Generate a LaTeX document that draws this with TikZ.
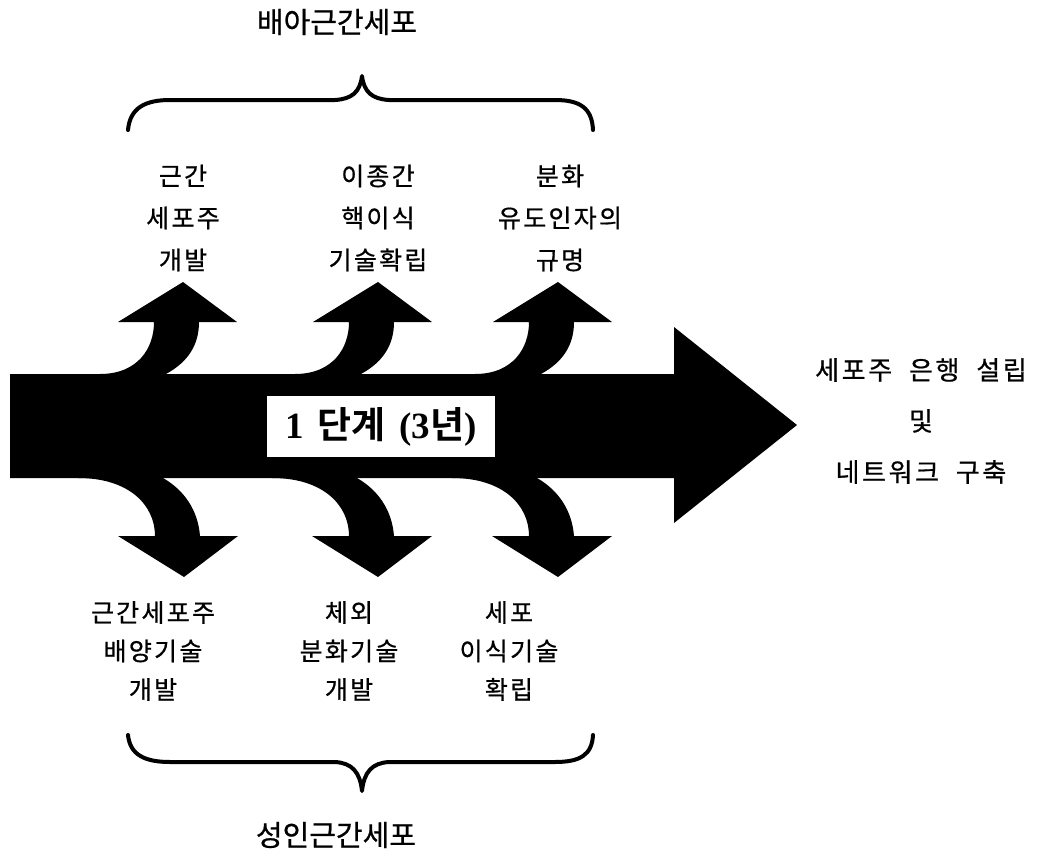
\documentclass[tikz,border=0pt]{standalone}
\usepackage{fontspec}
\newfontfamily\kr[LetterSpace=9,FakeBold=0.7]{Noto Sans CJK KR}
\newfontfamily\krtitle[LetterSpace=0,FakeBold=0.7]{Noto Sans CJK KR}
\newfontfamily\krwide[LetterSpace=10,WordSpace=2,FakeBold=0.7]{Noto Sans CJK KR}
\newfontfamily\krplain[BoldFont={Noto Sans CJK KR Bold}]{Noto Sans CJK KR}
\newfontfamily\tnr{Liberation Serif}
\begin{document}
\begin{tikzpicture}[x=1pt,y=-1pt,
  lbl/.style={font=\fontsize{25}{42}\selectfont\kr, align=center, inner sep=0pt},
  lbllow/.style={lbl, font=\fontsize{25}{38.5}\selectfont\kr},
  title/.style={font=\fontsize{29}{30}\selectfont\krtitle, inner sep=0pt},
  brace/.style={line width=4pt, line cap=round, line join=round}]
\useasboundingbox (0,0) rectangle (1045,862);

% main stage arrow
\fill (10,374) -- (674,374) -- (674,327) -- (797,425) -- (674,523) -- (674,478) -- (10,478) -- cycle;

% branches bending upwards
\foreach \x in {183,378,558} {
  \fill ({\x-83},380) -- ({\x-83},374)
    .. controls ({\x-45},374) and ({\x-29},348) .. ({\x-29},322)
    -- ({\x-65},322) -- (\x,282) -- ({\x+54},322) -- ({\x+16},322)
    .. controls ({\x+16},345) and ({\x+5},362) .. ({\x-17},374)
    -- ({\x-17},380) -- cycle;
}

% branches bending downwards
\foreach \x in {184,378,558} {
  \fill ({\x-106},472) -- ({\x-106},478)
    .. controls ({\x-55},478) and ({\x-29},505) .. ({\x-29},536)
    -- ({\x-66},536) -- (\x,577) -- ({\x+54},536) -- ({\x+16},536)
    .. controls ({\x+14},510) and ({\x},490) .. ({\x-21},478)
    -- ({\x-21},472) -- cycle;
}

% stage label on the shaft
\node[fill=white, minimum width=228pt, minimum height=61pt, inner sep=0pt,
      font=\fontsize{37}{40}\selectfont\bfseries] (stage) at (381,426.5)
  {{\tnr 1} {\krplain 단계} {\tnr (3}{\krplain 년}{\tnr )}};

% goal
\node[font=\fontsize{26}{51}\selectfont\krwide, align=center, inner sep=0pt] (goal) at (921,421)
  {세포주 은행 설립\\및\\네트워크 구축};

% embryonic stem cell tasks
\node[lbl] (t1) at (183,218) {근간\\세포주\\개발};
\node[lbl] (t2) at (378,218) {이종간\\핵이식\\기술확립};
\node[lbl] (t3) at (560,218) {분화\\유도인자의\\규명};

% adult stem cell tasks
\node[lbllow] (b1) at (153,651) {근간세포주\\배양기술\\개발};
\node[lbllow] (b2) at (349,651) {체외\\분화기술\\개발};
\node[lbllow] (b3) at (509,651) {세포\\이식기술\\확립};

% group titles
\node[title] (embryo) at (337,22) {배아근간세포};
\node[title] (adult) at (336,835) {성인근간세포};

% braces
\draw[brace] (128,130) .. controls (130,108) and (145,100) .. (170,100) -- (335,100)
  .. controls (352,99) and (360,92) .. (362,76)
  .. controls (364,92) and (372,99) .. (389,100) -- (555,100)
  .. controls (580,100) and (592,108) .. (593,130);
\draw[brace] (128,735) .. controls (130,755) and (145,762) .. (170,762) -- (335,762)
  .. controls (352,763) and (360,772) .. (362,791)
  .. controls (364,772) and (372,763) .. (389,762) -- (555,762)
  .. controls (580,762) and (592,755) .. (593,735);
\end{tikzpicture}
\end{document}
